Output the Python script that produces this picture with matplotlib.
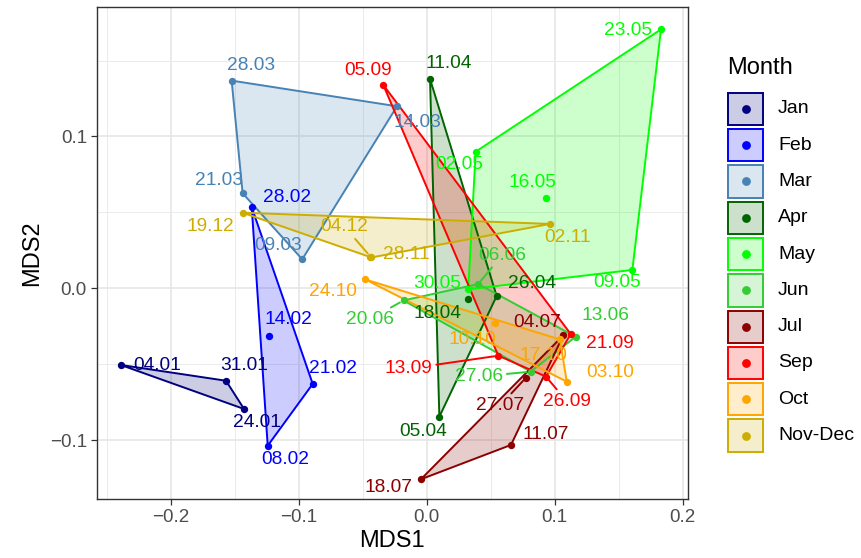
import numpy as np
import matplotlib
matplotlib.use("Agg")
import matplotlib.pyplot as plt
from matplotlib.patches import Polygon, Rectangle
from matplotlib.lines import Line2D

plt.rcParams['font.family'] = ['Liberation Sans', 'DejaVu Sans']

# MDS coordinates of each sampling date, grouped by month
months = ["Jan", "Feb", "Mar", "Apr", "May", "Jun", "Jul", "Sep", "Oct", "Nov-Dec"]
month_colors = ["#000080", "#0000FF", "#4682B4", "#006400", "#00FF00",
                "#32CD32", "#8B0000", "#FF0000", "#FFA500", "#CDAD00"]

sample_labels = [
    "04.01", "31.01", "24.01",
    "08.02", "14.02", "21.02", "28.02",
    "09.03", "14.03", "21.03", "28.03",
    "05.04", "11.04", "18.04", "26.04",
    "02.05", "09.05", "16.05", "23.05", "30.05",
    "06.06", "13.06", "20.06", "27.06",
    "04.07", "11.07", "18.07", "27.07",
    "05.09", "13.09", "21.09", "26.09",
    "03.10", "10.10", "17.10", "24.10",
    "02.11", "28.11", "04.12", "19.12",
]
sample_month = [
    "Jan", "Jan", "Jan",
    "Feb", "Feb", "Feb", "Feb",
    "Mar", "Mar", "Mar", "Mar",
    "Apr", "Apr", "Apr", "Apr",
    "May", "May", "May", "May", "May",
    "Jun", "Jun", "Jun", "Jun",
    "Jul", "Jul", "Jul", "Jul",
    "Sep", "Sep", "Sep", "Sep",
    "Oct", "Oct", "Oct", "Oct",
    "Nov-Dec", "Nov-Dec", "Nov-Dec", "Nov-Dec",
]
mds1 = [
    -0.2392, -0.1569, -0.1428,
    -0.1243, -0.1233, -0.0891, -0.1368,
    -0.0973, -0.0232, -0.1439, -0.1525,
    0.0099, 0.0026, 0.0325, 0.0547,
    0.0383, 0.1608, 0.0933, 0.1832, 0.0325,
    0.0403, 0.1165, -0.0181, 0.0813,
    0.1068, 0.0659, -0.0045, 0.0776,
    -0.0339, 0.0560, 0.1126, 0.0933,
    0.1095, 0.0534, 0.1042, -0.0482,
    0.0964, -0.0432, -0.0440, -0.1439,
]
mds2 = [
    -0.0505, -0.0609, -0.0795,
    -0.1037, -0.0312, -0.0630, 0.0534,
    0.0191, 0.1199, 0.0626, 0.1368,
    -0.0846, 0.1379, -0.0072, -0.0051,
    0.0900, 0.0121, 0.0597, 0.1706, -0.0007,
    0.0028, -0.0319, -0.0080, -0.0549,
    -0.0310, -0.1032, -0.1258, -0.0589,
    0.1339, -0.0444, -0.0301, -0.0582,
    -0.0615, -0.0231, -0.0337, 0.0059,
    0.0424, 0.0203, 0.0209, 0.0498,
]

# label placement (pixel offsets from the point, y pointing down) and leader lines
label_offsets = [
    (36, 1), (18, -15), (13, 14),
    (18, 14), (19, -16), (20, -15), (35, -10),
    (-24, -14), (20, 16), (-24, -13), (19, -15),
    (-16, 15), (19, -15), (-31, 14), (35, -13),
    (-16, 13), (-15, 13), (-14, -15), (-33, 1), (-31, -6),
    (24, -29), (30, -21), (-34, 19), (-52, 5),
    (-26, -13), (35, -10), (-32, 8), (-26, 28),
    (-15, -15), (-90, 13), (39, 10), (21, 25),
    (43, -9), (-23, 16), (-17, 16), (-32, 12),
    (18, 14), (35, -3), (-26, -30), (-32, 14),
]
with_segment = {"04.12", "06.06", "20.06", "13.09", "27.06", "27.07", "26.09"}


def convex_hull(pts):
    pts = sorted(set(map(tuple, pts)))
    if len(pts) < 3:
        return pts

    def cross(o, a, b):
        return (a[0] - o[0]) * (b[1] - o[1]) - (a[1] - o[1]) * (b[0] - o[0])

    lower, upper = [], []
    for p in pts:
        while len(lower) >= 2 and cross(lower[-2], lower[-1], p) <= 0:
            lower.pop()
        lower.append(p)
    for p in reversed(pts):
        while len(upper) >= 2 and cross(upper[-2], upper[-1], p) <= 0:
            upper.pop()
        upper.append(p)
    return lower[:-1] + upper[:-1]


W, H = 861, 558
fig = plt.figure(figsize=(W / 100, H / 100), dpi=100)
ax = fig.add_axes([96.7 / W, 1 - 499.3 / H, (688 - 96.7) / W, (499.3 - 6.7) / H])

x = np.array(mds1)
y = np.array(mds2)
grp = np.array(sample_month)
col_of = dict(zip(months, month_colors))

# hulls per month
for m in months:
    sel = grp == m
    hull = convex_hull(np.column_stack([x[sel], y[sel]]))
    c = col_of[m]
    ax.add_patch(Polygon(hull, closed=True, facecolor=c, alpha=0.2,
                         edgecolor="none", zorder=2))
    ax.add_patch(Polygon(hull, closed=True, facecolor="none", edgecolor=c,
                         linewidth=1.4, zorder=3))

for m in months:
    sel = grp == m
    ax.scatter(x[sel], y[sel], s=28, color=col_of[m], zorder=4, linewidths=0)

for lab, m, xi, yi, (dx, dy) in zip(sample_labels, sample_month, x, y, label_offsets):
    c = col_of[m]
    arrow = None
    if lab in with_segment:
        arrow = dict(arrowstyle="-", color=c, lw=1.4, shrinkA=1, shrinkB=3)
    ax.annotate(lab, (xi, yi), xytext=(dx, -dy), textcoords="offset pixels",
                ha="center", va="center", fontsize=13.8, color=c,
                arrowprops=arrow, zorder=5)

ax.set_xlim(-0.258, 0.2043)
ax.set_ylim(-0.139, 0.1855)
ax.set_xticks([-0.2, -0.1, 0.0, 0.1, 0.2])
ax.set_xticklabels(["\u22120.2", "\u22120.1", "0.0", "0.1", "0.2"])
ax.set_yticks([-0.1, 0.0, 0.1])
ax.set_yticklabels(["\u22120.1", "0.0", "0.1"])
ax.set_xticks([-0.25, -0.15, -0.05, 0.05, 0.15], minor=True)
ax.set_yticks([-0.05, 0.05, 0.15], minor=True)
ax.grid(which="major", color="#E6E6E6", linewidth=1.2, zorder=0)
ax.grid(which="minor", color="#EBEBEB", linewidth=0.7, zorder=0)
ax.set_axisbelow(True)
ax.tick_params(which="major", length=4, width=0.9, color="#333333",
               labelsize=13.5, labelcolor="#4D4D4D", pad=3)
ax.tick_params(which="minor", length=0)
for s in ax.spines.values():
    s.set_color("#333333")
    s.set_linewidth(1.0)
ax.set_xlabel("MDS1", fontsize=17, labelpad=3)
ax.set_ylabel("MDS2", fontsize=17, labelpad=5)


# legend drawn in figure pixel space
def fx(px):
    return px / W


def fy(py):
    return 1 - py / H


fig.text(fx(727), fy(68), "Month", fontsize=17, ha="left", va="center")
box_w, box_h, step = 37, 34.3, 36.3
for i, m in enumerate(months):
    top = 91.7 + i * step
    c = col_of[m]
    fig.patches.append(Rectangle((fx(727.3), fy(top + box_h)), box_w / W, box_h / H,
                                 transform=fig.transFigure, facecolor=c, alpha=0.2,
                                 edgecolor="none"))
    fig.patches.append(Rectangle((fx(727.3 + 1), fy(top + box_h - 1)), (box_w - 2) / W,
                                 (box_h - 2) / H, transform=fig.transFigure,
                                 facecolor="none", edgecolor=c, linewidth=1.4))
    fig.lines.append(Line2D([fx(727.3 + box_w / 2)], [fy(top + box_h / 2)],
                            transform=fig.transFigure, marker="o", markersize=5.3,
                            color=c, linestyle="none"))
    fig.text(fx(778), fy(top + box_h / 2), m, fontsize=14, ha="left", va="center")

fig.savefig("out.png", dpi=100)
